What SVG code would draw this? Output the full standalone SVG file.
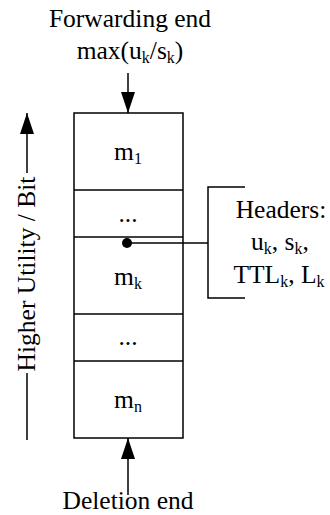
<svg xmlns="http://www.w3.org/2000/svg" width="330" height="515" viewBox="0 0 330 515">
<defs>
<style>
text{font-family:"Liberation Serif","Times New Roman",serif;font-size:25.5px;fill:#000;text-anchor:middle}
.sub{font-size:16px}
.ln{stroke:#000;stroke-width:1.5;fill:none}
</style>
<marker id="ah" viewBox="0 0 21 14" refX="21" refY="7" markerWidth="21" markerHeight="14" markerUnits="userSpaceOnUse" orient="auto">
<path d="M0,0 L21,7 L0,14 Z" fill="#000"/>
</marker>
</defs>
<rect width="330" height="515" fill="#fff"/>
<g id="labels">
<text x="130" y="27">Forwarding end</text>
<text x="130" y="59">max(u<tspan class="sub" dy="4">k</tspan><tspan dy="-4">/s</tspan><tspan class="sub" dy="4">k</tspan><tspan dy="-4">)</tspan></text>
<text x="128" y="509">Deletion end</text>
</g>
<g id="queue">
<rect class="ln" x="74" y="113" width="109" height="325"/>
<line class="ln" x1="74" y1="190" x2="183" y2="190"/>
<line class="ln" x1="74" y1="237" x2="183" y2="237"/>
<line class="ln" x1="74" y1="314" x2="183" y2="314"/>
<line class="ln" x1="74" y1="361" x2="183" y2="361"/>
</g>
<g id="m1"><text x="128" y="160">m<tspan class="sub" dy="4">1</tspan></text></g>
<g id="dots1"><text x="128" y="222">...</text></g>
<g id="mk"><text x="128" y="285">m<tspan class="sub" dy="4">k</tspan></text></g>
<g id="dots2"><text x="128" y="345">...</text></g>
<g id="mn"><text x="128" y="408">m<tspan class="sub" dy="4">n</tspan></text></g>
<g id="headers">
<path class="ln" d="M245,187 H208 V298 H245"/>
<text x="281" y="218">Headers:</text>
<text x="280" y="250">u<tspan class="sub" dy="4">k</tspan><tspan dy="-4">, s</tspan><tspan class="sub" dy="4">k</tspan><tspan dy="-4">,</tspan></text>
<text x="279" y="283">TTL<tspan class="sub" dy="4">k</tspan><tspan dy="-4">, L</tspan><tspan class="sub" dy="4">k</tspan></text>
</g>
<g id="axis">
<text transform="translate(35,274) rotate(-90)" x="0" y="0">Higher Utility / Bit</text>
</g>
<g id="connectors">
<line class="ln" x1="128" y1="73" x2="128" y2="113" marker-end="url(#ah)"/>
<line class="ln" x1="128" y1="495" x2="128" y2="438" marker-end="url(#ah)"/>
<line class="ln" x1="27" y1="440" x2="27" y2="373"/>
<line class="ln" x1="27" y1="173" x2="27" y2="113" marker-end="url(#ah)"/>
<line class="ln" x1="127" y1="243" x2="208" y2="243"/>
<circle cx="127" cy="243" r="5" fill="#000"/>
</g>
</svg>
